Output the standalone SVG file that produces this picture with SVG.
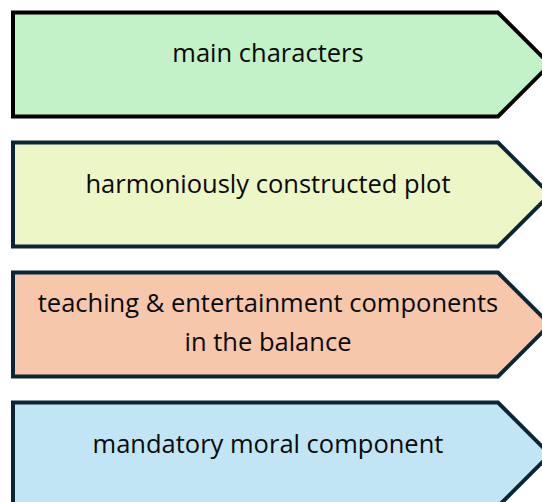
<svg xmlns="http://www.w3.org/2000/svg" width="542" height="502" viewBox="0 0 542 502">
  <style>
    .arrow { stroke-width: 4; stroke-linejoin: miter; }
    .label { font-family: "Open Sans", "Noto Sans", "Liberation Sans", sans-serif; font-size: 25.5px; fill: #0a0a0a; text-anchor: middle; }
  </style>
  <defs>
    <!-- pentagon arrow shape, pointing right -->
    <polygon id="chevron" points="13,0 498,0 550,52 498,104 13,104"/>
  </defs>
  <rect width="542" height="502" fill="#ffffff"/>

  <g id="node-main-characters">
    <use href="#chevron" y="12.5" class="arrow" fill="#c3f1c8" stroke="#000000"/>
    <text class="label" x="268" y="62">main characters</text>
  </g>

  <g id="node-plot">
    <use href="#chevron" y="142.5" class="arrow" fill="#ecf6c6" stroke="#0c2535"/>
    <text class="label" x="268" y="193">harmoniously constructed plot</text>
  </g>

  <g id="node-balance">
    <use href="#chevron" y="272.5" class="arrow" fill="#f6c7ab" stroke="#0c2535"/>
    <text class="label" x="268" y="312">teaching &amp; entertainment components</text>
    <text class="label" x="268" y="351">in the balance</text>
  </g>

  <g id="node-moral">
    <use href="#chevron" y="402.5" class="arrow" fill="#c2e5f5" stroke="#0c2535"/>
    <text class="label" x="268" y="453">mandatory moral component</text>
  </g>

  <g id="connectors"></g>
</svg>
